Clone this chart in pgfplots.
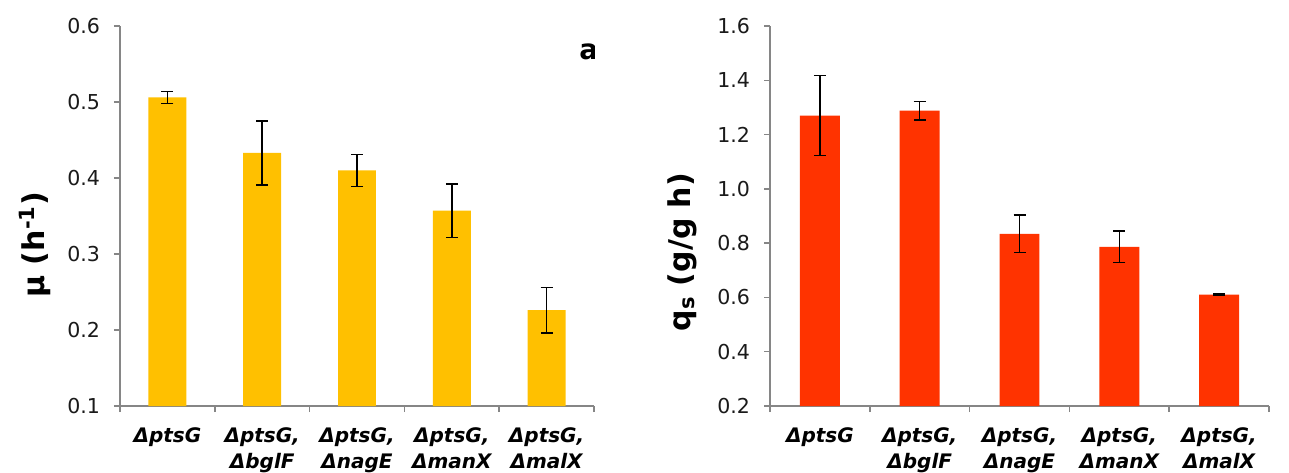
\documentclass[border=0pt]{standalone}
\usepackage{fontspec}
\setmainfont{DejaVu Sans}
\usepackage{pgfplots}
\pgfplotsset{compat=1.18}
\definecolor{barA}{HTML}{FFC000}
\definecolor{barB}{HTML}{FF3300}
\definecolor{axgray}{HTML}{868686}
\definecolor{txt}{HTML}{1A1A1A}
\pgfplotsset{
  panel/.style={
    scale only axis, anchor=south west,
    height=285pt,
    axis x line*=bottom, axis y line*=left,
    axis line style={axgray, line width=1.1pt, -},
    xmin=-0.5, xmax=4.5,
    xtick={-0.5,0.5,1.5,2.5,3.5,4.5},
    x tick label as interval,
    xticklabels={{ΔptsG},{ΔptsG,\\ΔbglF},{ΔptsG,\\ΔnagE},{ΔptsG,\\ΔmanX},{ΔptsG,\\ΔmalX}},
    x tick label style={font=\fontsize{15}{20}\selectfont\bfseries\itshape, align=center, anchor=north, text=black, yshift=-8pt},
    tick align=outside,
    major tick length=4.5pt,
    tick style={axgray, line width=1.1pt},
    y tick label style={font=\fontsize{15.4}{18}\selectfont, text=txt, xshift=-7pt,
      /pgf/number format/.cd, fixed, fixed zerofill, precision=1, assume math mode=true},
    ylabel style={font=\fontsize{22.5}{24}\selectfont\bfseries, anchor=center, text=black},
  },
  ebar/.style={ybar, bar width=0.4, draw=none,
    error bars/.cd, y dir=both, y explicit,
    error bar style={black, line width=1.1pt},
    error mark options={rotate=90, black, line width=1.1pt, mark size=4.5pt},
    /pgfplots/.cd},
}
\begin{document}
\begin{tikzpicture}
\useasboundingbox (0,0) rectangle (966.75pt,354pt);
\begin{axis}[panel, at={(90pt,49.5pt)}, width=355.5pt,
  ymin=0.1, ymax=0.6, ytick={0.1,0.2,0.3,0.4,0.5,0.6},
  ylabel={μ (h\textsuperscript{-1})},
  ylabel style={at={(axis description cs:-0.179,0.424)}}]
\addplot[fill=barA, ebar] coordinates {
  (0,0.506) +- (0,0.008)
  (1,0.433) +- (0,0.042)
  (2,0.410) +- (0,0.021)
  (3,0.357) +- (0,0.035)
  (4,0.226) +- (0,0.030)
};
\node[font=\fontsize{21}{22}\selectfont\bfseries] at (axis description cs:0.989,0.932) {a};
\end{axis}
\begin{axis}[panel, at={(577.5pt,49.5pt)}, width=374.25pt,
  ymin=0.2, ymax=1.6, ytick={0.2,0.4,0.6,0.8,1.0,1.2,1.4,1.6},
  ylabel={q\textsubscript{s} (g/g h)},
  ylabel style={at={(axis description cs:-0.176,0.405)}}]
\addplot[fill=barB, ebar] coordinates {
  (0,1.270) +- (0,0.147)
  (1,1.288) +- (0,0.034)
  (2,0.834) +- (0,0.069)
  (3,0.786) +- (0,0.058)
  (4,0.610) +- (0,0.003)
};
\node[font=\fontsize{21}{22}\selectfont\bfseries] at (axis description cs:1.02,0.932) {b};
\end{axis}
\end{tikzpicture}
\end{document}
